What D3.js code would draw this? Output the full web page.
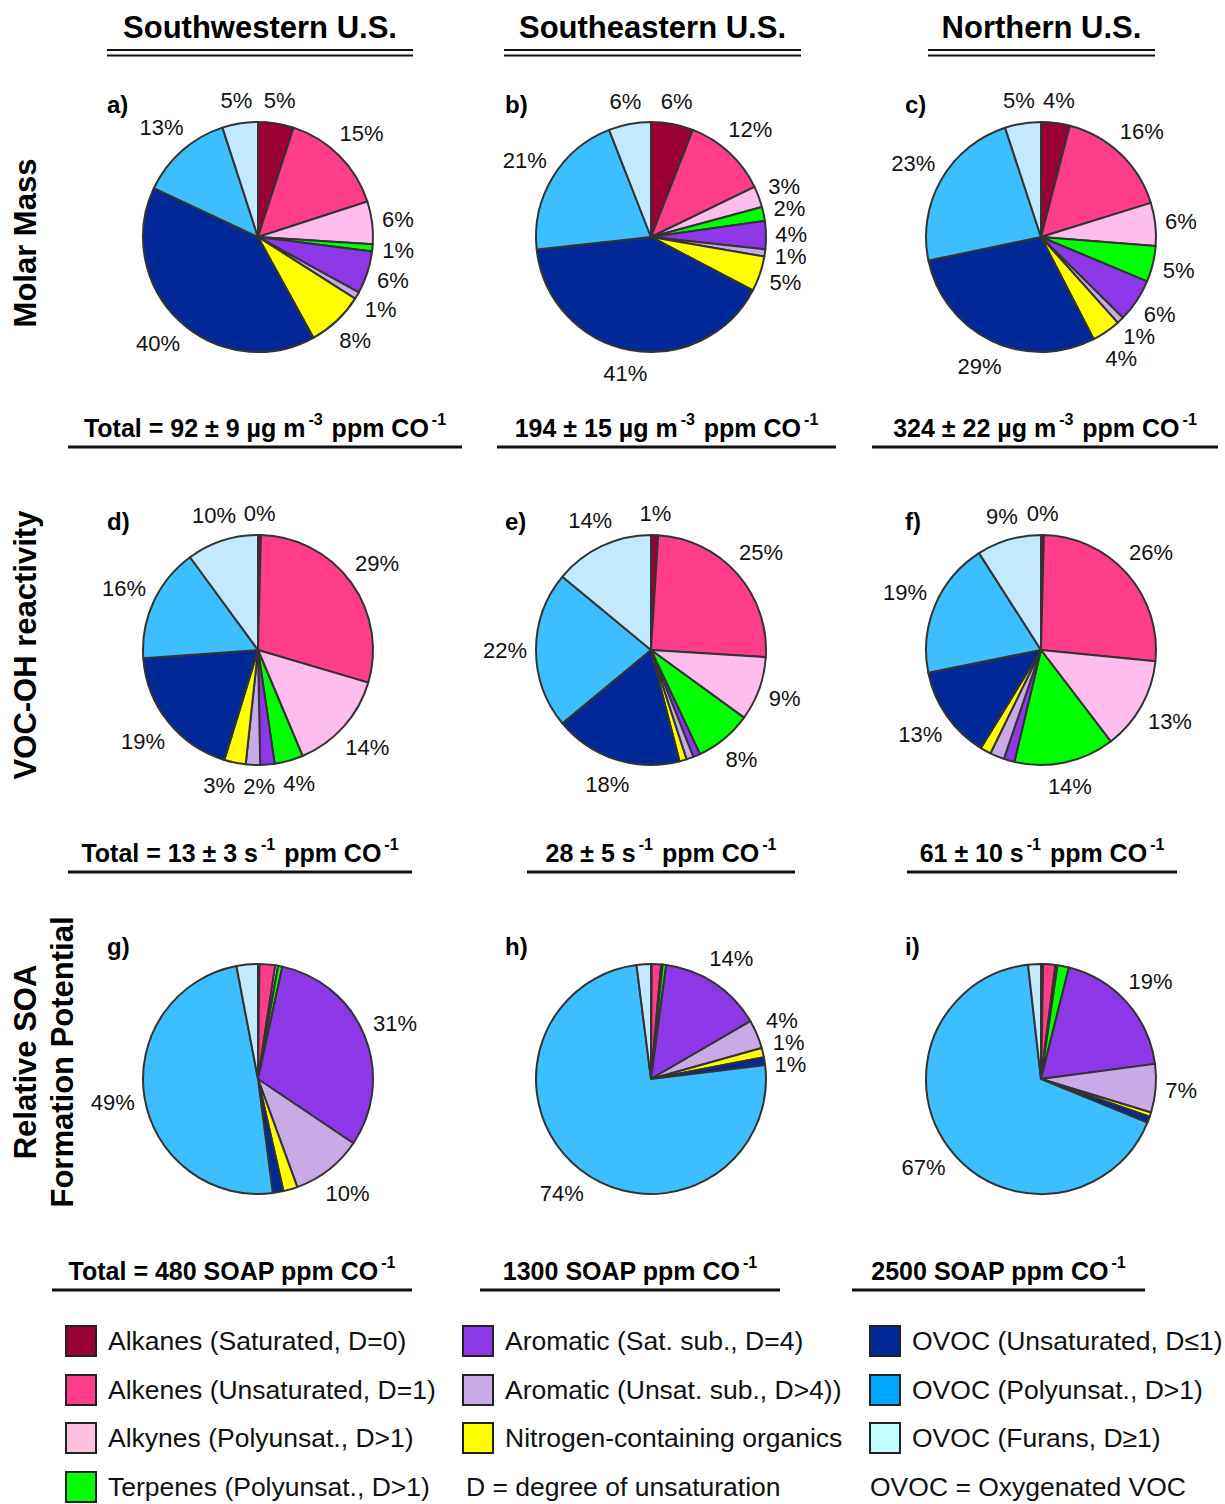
<!DOCTYPE html>
<html lang="en">
<head>
  <meta charset="UTF-8">
  <title>VOC composition pies</title>
  <style>
    body { margin: 0; background: #fff; font-family: "Liberation Sans", Arial, sans-serif; }
    svg { display: block; }
    .slice { stroke: #333; stroke-width: 2px; stroke-linejoin: round; }
    .pct { font-size: 22px; fill: #111; }
    .hdr { font-size: 31px; font-weight: bold; }
    .rowlab { font-size: 31px; font-weight: bold; }
    .letter { font-size: 24px; font-weight: bold; }
    .total { font-size: 25px; font-weight: bold; }
    .leg { font-size: 26.5px; fill: #111; }
  </style>
</head>
<body>
  <svg id="chart" width="1225" height="1504"></svg>
  <script src="https://d3js.org/d3.v7.min.js"></script>
  <script>
    // categories in clockwise order starting at 12 o'clock
    const categories = [
      "Alkanes (Saturated, D=0)",
      "Alkenes (Unsaturated, D=1)",
      "Alkynes (Polyunsat., D>1)",
      "Terpenes (Polyunsat., D>1)",
      "Aromatic (Sat. sub., D=4)",
      "Aromatic (Unsat. sub., D>4))",
      "Nitrogen-containing organics",
      "OVOC (Unsaturated, D\u22641)",
      "OVOC (Polyunsat., D>1)",
      "OVOC (Furans, D\u22651)"
    ];
    const colors = ["#990033", "#ff3d8b", "#ffbdee", "#00ff00", "#8c38e6",
                    "#c8aae6", "#ffff00", "#002896", "#3dbfff", "#c2e9ff"];
    // legend swatches are a touch brighter for the OVOC classes
    const legendColors = ["#990033", "#ff3d8b", "#ffbfdf", "#00ff00", "#8c38e6",
                          "#c8aae6", "#ffff00", "#002896", "#00a8ff", "#c4ffff"];

    const regions = ["Southwestern U.S.", "Southeastern U.S.", "Northern U.S."];

    // percent of total, per panel
    const molarSW = [5, 15, 6, 1, 6, 1, 8, 40, 13, 5];
    const molarSE = [6, 12, 3, 2, 4, 1, 5, 41, 21, 6];
    const molarN  = [4, 16, 6, 5, 6, 1, 4, 29, 23, 5];
    const reactSW = [0.4, 29, 14, 4, 2, 2, 3, 19, 16, 10];
    const reactSE = [1, 25, 9, 8, 1, 1, 1, 18, 22, 14];
    const reactN  = [0.4, 26, 13, 14, 1.5, 2, 1.5, 13, 19, 9];
    const soaSW   = [0.2, 2.2, 0.4, 0.6, 31, 10, 2, 1.5, 49, 3];
    const soaSE   = [0.1, 1.3, 0.2, 0.5, 14.4, 4, 1.3, 1.1, 74.4, 2];
    const soaN    = [0.3, 1.7, 0.3, 1.6, 19, 6.8, 0.6, 0.9, 67, 1.8];

    // which slices carry a percent label (1 = shown)
    const shownMolar = [1, 1, 1, 1, 1, 1, 1, 1, 1, 1];
    const shownReactSW = [1, 1, 1, 1, 0, 1, 1, 1, 1, 1];
    const shownReact = [1, 1, 1, 1, 0, 0, 0, 1, 1, 1];
    const shownSoaSE = [0, 0, 0, 0, 1, 1, 1, 1, 1, 0];
    const shownSoa = [0, 0, 0, 0, 1, 1, 0, 0, 1, 0];

    const rowTitles = [["Molar Mass"], ["VOC-OH reactivity"], ["Relative SOA", "Formation Potential"]];
    const letters = ["a)", "b)", "c)", "d)", "e)", "f)", "g)", "h)", "i)"];

    const molarTotals = ["Total = 92 \u00b1 9", "194 \u00b1 15", "324 \u00b1 22"];
    const reactTotals = ["Total = 13 \u00b1 3", "28 \u00b1 5", "61 \u00b1 10"];
    const soaTotals = ["Total = 480", "1300", "2500"];

    const panels = [
      [molarSW, shownMolar], [molarSE, shownMolar], [molarN, shownMolar],
      [reactSW, shownReactSW], [reactSE, shownReact], [reactN, shownReact],
      [soaSW, shownSoa], [soaSE, shownSoaSE], [soaN, shownSoa]
    ];

    const svg = d3.select("#chart");
    svg.append("rect").attr("width", 1225).attr("height", 1504).attr("fill", "#fff");

    const colX = [258, 651, 1041];
    const rowY = [237, 650, 1079];
    const R = 115;

    // column headers with double underline
    const hdrLines = [[107, 413], [504, 801], [928, 1155]];
    regions.forEach((r, i) => {
      const cx = (hdrLines[i][0] + hdrLines[i][1]) / 2;
      svg.append("text").attr("class", "hdr")
        .attr("x", cx).attr("y", 38).attr("text-anchor", "middle").text(r);
      [50, 55.5].forEach(y => {
        svg.append("line")
          .attr("x1", hdrLines[i][0]).attr("x2", hdrLines[i][1])
          .attr("y1", y).attr("y2", y)
          .attr("stroke", "#111").attr("stroke-width", 2.2);
      });
    });

    // row titles (rotated)
    const rowTitleY = [243, 645, 1062];
    rowTitles.forEach((lines, i) => {
      lines.forEach((t, j) => {
        const x = lines.length === 1 ? 36 : 36 + j * 37;
        svg.append("text").attr("class", "rowlab")
          .attr("transform", `translate(${x},${rowTitleY[i]}) rotate(-90)`)
          .attr("text-anchor", "middle").text(t);
      });
    });

    const pie = d3.pie().sort(null).value(d => d);
    const arc = d3.arc().innerRadius(0).outerRadius(R);
    const fmt = v => Math.round(v) + "%";
    const minGapY = 22, minGapX = 40;

    panels.forEach(([vals, shown], k) => {
      const col = k % 3, row = Math.floor(k / 3);
      const cx = colX[col], cy = rowY[row];
      const g = svg.append("g").attr("transform", `translate(${cx},${cy})`);
      const arcs = pie(vals);

      g.selectAll("path").data(arcs).join("path")
        .attr("class", "slice")
        .attr("d", arc)
        .attr("fill", (d, i) => colors[i]);

      svg.append("text").attr("class", "letter")
        .attr("x", [107, 505, 905][col]).attr("y", [113, 530, 955][row])
        .text(letters[k]);

      // label positions: box placed just outside the rim along the mid angle
      const labs = arcs.map((d, i) => {
        const a = (d.startAngle + d.endAngle) / 2;
        const sx = Math.sin(a), sy = -Math.cos(a);
        const w = fmt(vals[i]).length * 12;
        const ext = Math.abs(sx) * w / 2 + Math.abs(sy) * 8;
        const r = R + 13 + ext;
        return { i, x: sx * r, y: sy * r, sx, side: sx >= 0 ? 1 : -1 };
      }).filter(l => shown[l.i]);

      // labels on the flanks are spread vertically
      [1, -1].forEach(side => {
        const s = labs.filter(l => l.side === side && Math.abs(l.sx) > 0.5)
          .sort((a, b) => a.y - b.y);
        for (let it = 0; it < 30; it++) {
          for (let j = 1; j < s.length; j++) {
            const gap = s[j].y - s[j - 1].y;
            if (gap < minGapY && Math.abs(s[j].x - s[j - 1].x) < 40) {
              const d = (minGapY - gap) / 2;
              s[j].y += d; s[j - 1].y -= d;
            }
          }
        }
      });
      // labels near top/bottom are spread horizontally
      [1, -1].forEach(half => {
        const s = labs.filter(l => Math.abs(l.sx) <= 0.5 && Math.sign(l.y) === half)
          .sort((a, b) => a.x - b.x);
        for (let it = 0; it < 30; it++) {
          for (let j = 1; j < s.length; j++) {
            const gap = s[j].x - s[j - 1].x;
            if (gap < minGapX && Math.abs(s[j].y - s[j - 1].y) < 20) {
              const d = (minGapX - gap) / 2;
              s[j].x += d; s[j - 1].x -= d;
            }
          }
        }
      });

      g.selectAll("text.pct").data(labs).join("text")
        .attr("class", "pct")
        .attr("x", d => d.x).attr("y", d => d.y)
        .attr("text-anchor", "middle")
        .attr("dominant-baseline", "central")
        .text(d => fmt(vals[d.i]));
    });

    // totals under each row
    const totalRows = [
      { nums: molarTotals, unit: [["\u00b5g m", null], ["-3", "sup"], ["ppm CO", null], ["-1", "sup"]],
        y: 437, lineY: 447, lines: [[68, 462], [497, 836], [872, 1218]] },
      { nums: reactTotals, unit: [["s", null], ["-1", "sup"], ["ppm CO", null], ["-1", "sup"]],
        y: 862, lineY: 872, lines: [[68, 412], [527, 795], [907, 1177]] },
      { nums: soaTotals, unit: [["SOAP ppm CO", null], ["-1", "sup"]],
        y: 1280, lineY: 1290, lines: [[52, 412], [480, 780], [852, 1145]] }
    ];
    totalRows.forEach(tr => {
      tr.nums.forEach((n, i) => {
        const [x1, x2] = tr.lines[i];
        const t = svg.append("text").attr("class", "total")
          .attr("x", (x1 + x2) / 2).attr("y", tr.y).attr("text-anchor", "middle");
        t.append("tspan").text(n + " ");
        tr.unit.forEach(([s, kind], j) => {
          if (kind === "sup") {
            t.append("tspan").attr("dy", -12).attr("dx", 3).attr("font-size", 16).text(s);
            t.append("tspan").attr("dy", 12).attr("dx", 2)
              .text(j < tr.unit.length - 1 ? " " : "");
          } else {
            t.append("tspan").text(s);
          }
        });
        svg.append("line").attr("x1", x1).attr("x2", x2)
          .attr("y1", tr.lineY).attr("y2", tr.lineY)
          .attr("stroke", "#111").attr("stroke-width", 3);
      });
    });

    // legend: 3 columns
    const legCols = [[0, 1, 2, 3], [4, 5, 6], [7, 8, 9]];
    const legX = [66, 463, 870];
    const legY = [1341, 1390, 1438, 1487];
    legCols.forEach((idxs, c) => {
      idxs.forEach((ci, r) => {
        svg.append("rect")
          .attr("x", legX[c]).attr("y", legY[r] - 15)
          .attr("width", 30).attr("height", 30)
          .attr("fill", legendColors[ci]).attr("stroke", "#222").attr("stroke-width", 2);
        svg.append("text").attr("class", "leg")
          .attr("x", legX[c] + 42).attr("y", legY[r])
          .attr("dominant-baseline", "central")
          .text(categories[ci]);
      });
    });
    svg.append("text").attr("class", "leg")
      .attr("x", 466).attr("y", legY[3]).attr("dominant-baseline", "central")
      .text("D = degree of unsaturation");
    svg.append("text").attr("class", "leg")
      .attr("x", 870).attr("y", legY[3]).attr("dominant-baseline", "central")
      .text("OVOC = Oxygenated VOC");
  </script>
</body>
</html>
